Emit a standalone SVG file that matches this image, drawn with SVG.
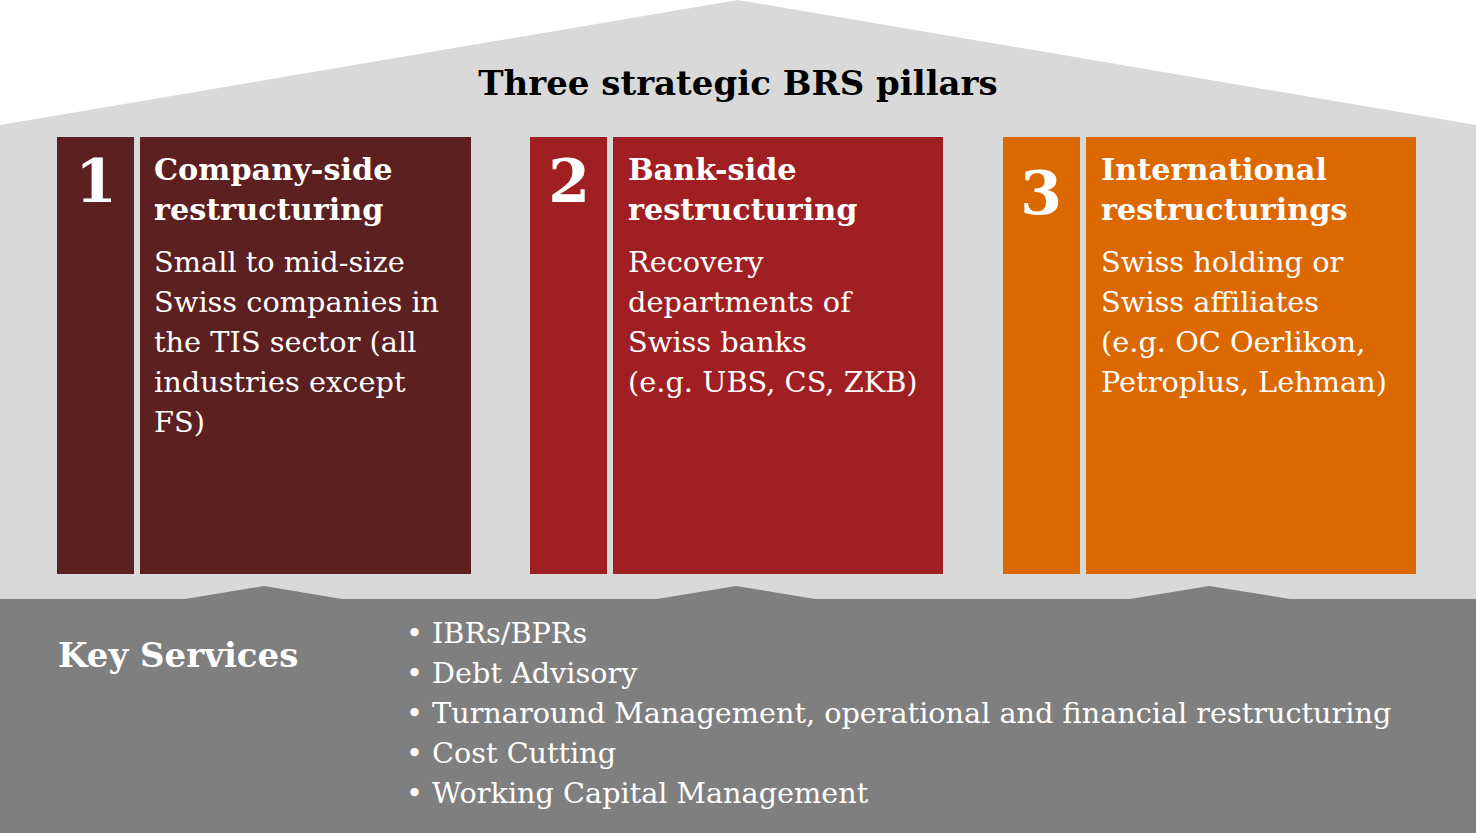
<svg xmlns="http://www.w3.org/2000/svg" width="1476" height="833" viewBox="0 0 1476 833">
<style>
text{font-family:"DejaVu Serif","Liberation Serif",serif;fill:#fff}
.n{font-weight:bold;font-size:60px}
.h{font-weight:bold;font-size:30.3px}
.b{font-size:28.8px}
.s{font-size:28.7px}
</style>
<polygon points="0,125 738,0 1476,125 1476,833 0,833" fill="#d9d9d9"/>
<text x="738" y="95" text-anchor="middle" font-weight="bold" font-size="34" style="fill:#000">Three strategic BRS pillars</text>
<g id="pillar1" fill="#5c2020">
<rect x="57" y="137" width="77" height="437"/><rect x="140" y="137" width="331" height="437"/>
<text class="n" x="96" y="202" text-anchor="middle">1</text>
<text class="h" x="154" y="180">Company-side</text><text class="h" x="154" y="220">restructuring</text>
<text class="b" x="154" y="272">Small to mid-size</text><text class="b" x="154" y="312">Swiss companies in</text><text class="b" x="154" y="352">the TIS sector (all</text><text class="b" x="154" y="392">industries except</text><text class="b" x="154" y="432">FS)</text>
</g>
<g id="pillar2" fill="#a01f22">
<rect x="530" y="137" width="77" height="437"/><rect x="613" y="137" width="330" height="437"/>
<text class="n" x="569" y="202" text-anchor="middle">2</text>
<text class="h" x="628" y="180">Bank-side</text><text class="h" x="628" y="220">restructuring</text>
<text class="b" x="628" y="272">Recovery</text><text class="b" x="628" y="312">departments of</text><text class="b" x="628" y="352">Swiss banks</text><text class="b" x="628" y="392">(e.g. UBS, CS, ZKB)</text>
</g>
<g id="pillar3" fill="#dc6900">
<rect x="1003" y="137" width="77" height="437"/><rect x="1086" y="137" width="330" height="437"/>
<text class="n" x="1041" y="214" text-anchor="middle">3</text>
<text class="h" x="1101" y="180">International</text><text class="h" x="1101" y="220">restructurings</text>
<text class="b" x="1101" y="272">Swiss holding or</text><text class="b" x="1101" y="312">Swiss affiliates</text><text class="b" x="1101" y="352">(e.g. OC Oerlikon,</text><text class="b" x="1101" y="392">Petroplus, Lehman)</text>
</g>
<g id="services">
<polygon points="0,599 185,599 264,586 342,599 657,599 736,586 815,599 1130,599 1209,586 1290,599 1476,599 1476,833 0,833" fill="#7f7f7f"/>
<text x="58" y="667" font-weight="bold" font-size="34">Key Services</text>
<text class="s" x="406" y="643">• IBRs/BPRs</text>
<text class="s" x="406" y="683">• Debt Advisory</text>
<text class="s" x="406" y="723">• Turnaround Management, operational and financial restructuring</text>
<text class="s" x="406" y="763">• Cost Cutting</text>
<text class="s" x="406" y="803">• Working Capital Management</text>
</g>
</svg>
